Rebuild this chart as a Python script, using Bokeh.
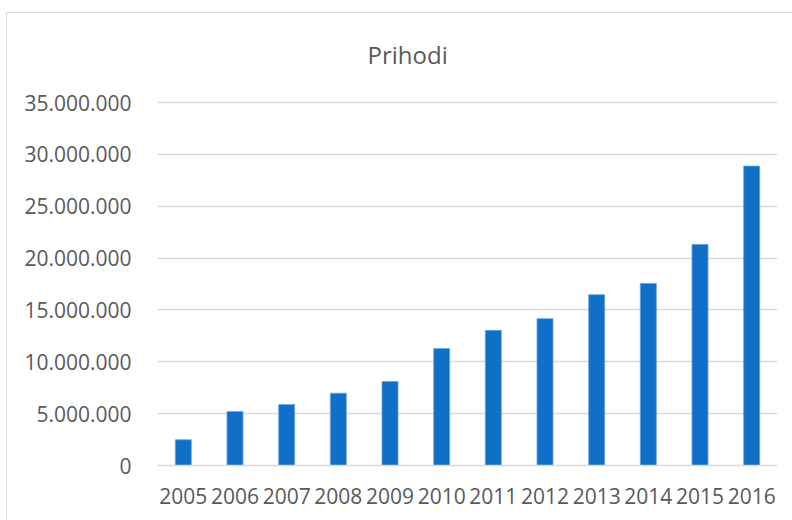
from bokeh.plotting import figure
from bokeh.models import Range1d, CustomJSTickFormatter, InlineStyleSheet
from bokeh.embed import file_html
from bokeh.resources import INLINE

years = ["2005", "2006", "2007", "2008", "2009", "2010", "2011", "2012",
         "2013", "2014", "2015", "2016"]
prihodi = [2480000, 5200000, 5880000, 6970000, 8100000, 11270000, 13030000,
           14160000, 16470000, 17560000, 21320000, 28870000]
y_ticks = [0, 5000000, 10000000, 15000000, 20000000, 25000000, 30000000, 35000000]
title_text = "Prihodi"

FONT = "Open Sans"
TXT = "#595959"

p = figure(x_range=years, y_range=Range1d(0, 35193000), width=792, height=520,
           output_backend="svg", toolbar_location=None,
           min_border_left=157, min_border_right=15, min_border_top=100,
           min_border_bottom=55, title=title_text)
p.x_range.range_padding = 0
p.outline_line_color = None

p.title.align = "left"
p.title.offset = 210
p.title.standoff = 59
p.title.text_font = FONT
p.title.text_font_size = "24px"
p.title.text_font_style = "normal"
p.title.text_color = TXT

p.vbar(x=years, top=prihodi, width=0.31, fill_color="#106fc6",
       line_color="#6aa6dc", line_width=0.8)

p.yaxis.ticker = y_ticks
p.yaxis.formatter = CustomJSTickFormatter(
    code="return Math.round(tick).toString().replace(/\\B(?=(\\d{3})+(?!\\d))/g, '.');")
p.yaxis.axis_line_color = None
p.yaxis.major_tick_line_color = None
p.yaxis.minor_tick_line_color = None
p.yaxis.major_label_text_font = FONT
p.yaxis.major_label_text_font_size = "21px"
p.yaxis.major_label_text_color = TXT
p.yaxis.major_label_standoff = 20

p.xaxis.axis_line_color = "#d9d9d9"
p.xaxis.axis_line_width = 1.5
p.xaxis.major_tick_line_color = None
p.xaxis.minor_tick_line_color = None
p.xaxis.major_label_text_font = FONT
p.xaxis.major_label_text_font_size = "21px"
p.xaxis.major_label_text_color = TXT
p.xaxis.major_label_standoff = 16

p.xgrid.grid_line_color = None
p.ygrid.grid_line_color = "#d9d9d9"
p.ygrid.grid_line_width = 1.5

p.stylesheets = [InlineStyleSheet(css="""
:host { position: relative; }
:host::after { content: ''; position: absolute; left: 6px; top: 12px;
  width: 800px; height: 600px; border: 1.5px solid #d9d9d9;
  pointer-events: none; box-sizing: border-box; }
""")]

open("out.html", "w").write(file_html(p, INLINE))
